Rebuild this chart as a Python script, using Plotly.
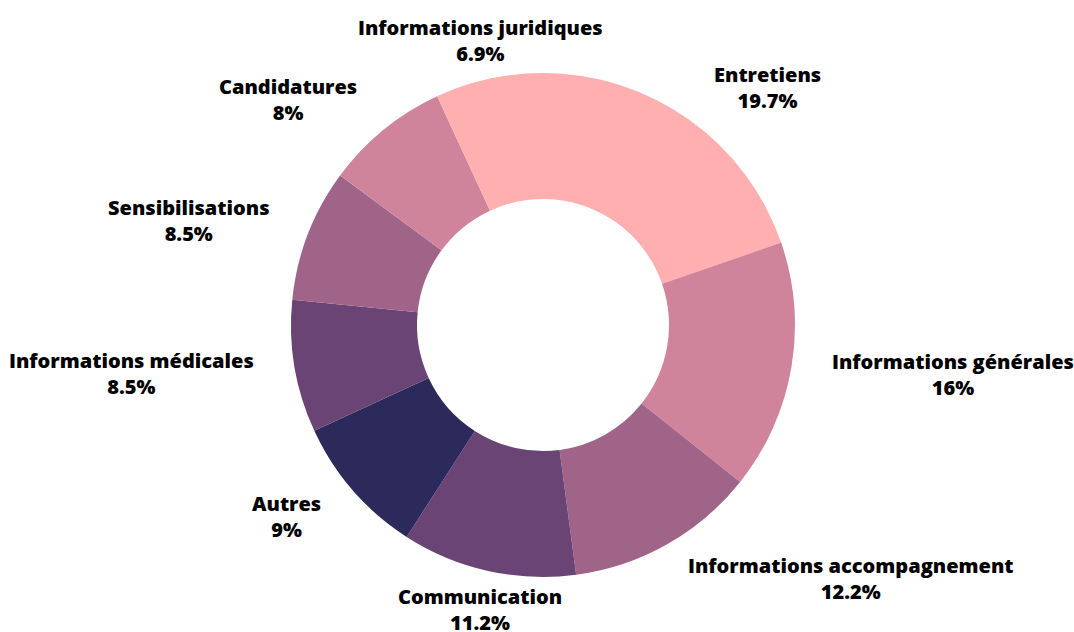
import math
import plotly.graph_objects as go

labels = ["Entretiens", "Informations générales", "Informations accompagnement",
          "Communication", "Autres", "Informations médicales",
          "Sensibilisations", "Candidatures", "Informations juridiques"]
values = [19.7, 16, 12.2, 11.2, 9, 8.5, 8.5, 8, 6.9]
colors = ["#FFAFAF", "#D0849B", "#A06488", "#6A4475", "#2C2A5A",
          "#6A4475", "#A06488", "#D0849B", "#FFAFAF"]

W, H = 1074, 632
CX, CY, R = 543, 325, 252       # pie centre / outer radius in pixels
LABEL_R = R * 1.155              # radius where label blocks are anchored

fig = go.Figure(go.Pie(
    labels=labels,
    values=values,
    hole=0.5,
    sort=False,
    direction="clockwise",
    rotation=0,
    marker=dict(colors=colors, line=dict(color="white", width=0)),
    textinfo="none",
    hoverinfo="label+percent",
    automargin=False,
    showlegend=False,
    domain=dict(x=[(CX - R) / W, (CX + R) / W],
                y=[1 - (CY + R) / H, 1 - (CY - R) / H]),
))

total = sum(values)
cum = 0
annotations = []
for lab, val in zip(labels, values):
    mid = (cum + val / 2) / total * 2 * math.pi
    cum += val
    vx, vy = math.sin(mid), -math.cos(mid)
    px, py = CX + LABEL_R * vx, CY + LABEL_R * vy
    if vx > 0.3:
        xa = "left"
    elif vx < -0.3:
        xa = "right"
    else:
        xa = "center"
    annotations.append(dict(
        x=px / W, y=1 - py / H, xref="paper", yref="paper",
        text=f"{lab}<br>{val:g}%", showarrow=False,
        xanchor=xa, yanchor="middle", align="center",
        font=dict(family="Open Sans", size=20, color="black", weight=800),
    ))

fig.update_layout(
    width=W, height=H,
    margin=dict(l=0, r=0, t=0, b=0),
    paper_bgcolor="white", plot_bgcolor="white",
    annotations=annotations,
)

fig.write_html("out.html",
               config={"displayModeBar": False},
               post_script="document.body.style.margin='0';"
                           "document.body.style.overflow='hidden';")
